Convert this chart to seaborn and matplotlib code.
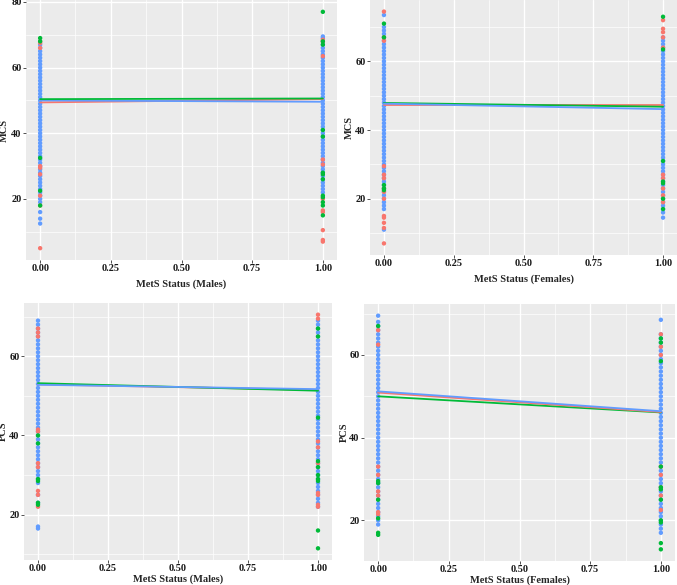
import matplotlib
matplotlib.use("Agg")
import matplotlib.pyplot as plt
import pandas as pd
import seaborn as sns
from matplotlib.ticker import MultipleLocator

groups = ["Group 1", "Group 2", "Group 3"]
colors = ["#F8766D", "#00BA38", "#619CFF"]

x_levels = [0, 1]

# ---------- Panel A: MCS, males ----------
mm_x0_red = [5, 18, 21, 27.5, 29.5, 30, 66, 67.5, 68]
mm_x0_green = [18, 22.5, 32.5, 68, 69]
mm_x0_blue = [12.5, 14, 16, 19, 20, 21, 22, 23, 24, 25, 26, 27, 28, 29, 30, 31, 32,
              33, 34, 35, 36, 37, 38, 39, 40, 41, 42, 43, 44, 45, 46, 47, 48, 49,
              50, 51, 52, 53, 54, 55, 56, 57, 58, 59, 60, 61, 62, 63, 64, 65, 66, 67]
mm_x1_red = [7, 7.5, 10.5, 16, 16.5, 20, 30.5, 32, 63.5, 68, 68.5]
mm_x1_green = [15, 18, 19, 20.5, 21, 26, 27.5, 28, 39, 41, 67, 68, 77]
mm_x1_blue = [22, 23, 24, 25, 26, 27, 28, 29, 30, 31, 32, 33, 34, 35, 36, 37, 38,
              39, 40, 41, 42, 43, 44, 45, 46, 47, 48, 49, 50, 51, 52, 53, 54, 55,
              56, 57, 58, 59, 60, 61, 62, 63, 64, 65, 66, 67, 68, 69, 69.5]
mm_fit_red = [49.4, 50.4]
mm_fit_green = [50.4, 50.6]
mm_fit_blue = [50.0, 49.6]

# ---------- Panel B: MCS, females ----------
fm_x0_red = [7, 11.5, 13, 14.5, 15, 20, 22, 23, 26, 27, 29.5, 66, 67, 74.5]
fm_x0_green = [22.5, 23, 24, 67, 71]
fm_x0_blue = [11, 17, 18, 19, 20, 21, 22, 23, 24, 25, 26, 27, 28, 29, 30, 31, 32,
              33, 34, 35, 36, 37, 38, 39, 40, 41, 42, 43, 44, 45, 46, 47, 48, 49,
              50, 51, 52, 53, 54, 55, 56, 57, 58, 59, 60, 61, 62, 63, 64, 65, 66,
              67, 68, 69, 70, 73.5]
fm_x1_red = [19, 21, 23, 26, 27, 64, 67, 68.5, 69.5, 72]
fm_x1_green = [17, 20, 24.5, 25, 31, 63.5, 73]
fm_x1_blue = [14.5, 16, 17, 18, 19, 20, 21, 22, 23, 24, 25, 26, 27, 28, 29, 30, 31,
              32, 33, 34, 35, 36, 37, 38, 39, 40, 41, 42, 43, 44, 45, 46, 47, 48,
              49, 50, 51, 52, 53, 54, 55, 56, 57, 58, 59, 60, 61, 62, 63, 64, 65,
              66, 67]
fm_fit_red = [47.4, 47.4]
fm_fit_green = [47.9, 46.8]
fm_fit_blue = [47.7, 46.1]

# ---------- Panel C: PCS, males ----------
mp_x0_red = [22, 25, 26, 32, 33, 41, 41.5, 65, 66, 67]
mp_x0_green = [22.5, 23, 28.5, 29, 38, 40]
mp_x0_blue = [16.5, 17, 23, 25, 28, 29, 30, 31, 32, 33, 34, 35, 36, 37, 38, 39, 40,
              41, 42, 43, 44, 45, 46, 47, 48, 49, 50, 51, 52, 53, 54, 55, 56, 57,
              58, 59, 60, 61, 62, 63, 64, 65, 66, 67, 68, 69]
mp_x1_red = [22, 22.5, 25, 25.5, 33, 37, 38.5, 69.5, 70.5]
mp_x1_green = [11.5, 16, 28.5, 29, 30, 32, 33.5, 44.5, 65, 67]
mp_x1_blue = [22, 23, 24, 25, 26, 27, 28, 29, 30, 31, 32, 33, 34, 35, 36, 37, 38,
              39, 40, 41, 42, 43, 44, 45, 46, 47, 48, 49, 50, 51, 52, 53, 54, 55,
              56, 57, 58, 59, 60, 61, 62, 63, 64, 65, 66, 67, 68, 69]
mp_fit_red = [52.9, 51.5]
mp_fit_green = [53.2, 51.3]
mp_fit_blue = [52.8, 51.7]

# ---------- Panel D: PCS, females ----------
fp_x0_red = [21.5, 22, 26, 27, 31, 33, 62.5, 66]
fp_x0_green = [16.5, 17, 20.5, 25, 29, 29.5, 67]
fp_x0_blue = [19, 20, 21, 22, 23, 24, 25, 26, 27, 28, 29, 30, 31, 32, 33, 34, 35,
              36, 37, 38, 39, 40, 41, 42, 43, 44, 45, 46, 47, 48, 49, 50, 51, 52,
              53, 54, 55, 56, 57, 58, 59, 60, 61, 62, 63, 64, 65, 66, 67, 68, 69.5]
fp_x1_red = [22.5, 26, 28, 31, 33, 60, 62, 65]
fp_x1_green = [13, 14.5, 19.5, 20, 25, 27.5, 28, 33, 58.5, 63, 64]
fp_x1_blue = [17, 18, 19, 20, 21, 22, 23, 24, 25, 26, 27, 28, 29, 30, 31, 32, 33,
              34, 35, 36, 37, 38, 39, 40, 41, 42, 43, 44, 45, 46, 47, 48, 49, 50,
              51, 52, 53, 54, 55, 56, 57, 58, 59, 60, 61, 62, 63, 64, 65, 68.5]
fp_fit_red = [50.9, 46.2]
fp_fit_green = [50.0, 46.1]
fp_fit_blue = [51.2, 46.4]

W, H = 677, 585

panels = [
    dict(pts=[(mm_x0_blue, mm_x1_blue, "Group 3"), (mm_x0_red, mm_x1_red, "Group 1"),
              (mm_x0_green, mm_x1_green, "Group 2")],
         fits=[(mm_fit_red, "Group 1"), (mm_fit_blue, "Group 3"), (mm_fit_green, "Group 2")],
         ylabel="MCS", xlabel="MetS Status (Males)",
         px=(26, 0, 337, 260), xpad=4, ylab_px=4.5),
    dict(pts=[(fm_x0_blue, fm_x1_blue, "Group 3"), (fm_x0_red, fm_x1_red, "Group 1"),
              (fm_x0_green, fm_x1_green, "Group 2")],
         fits=[(fm_fit_red, "Group 1"), (fm_fit_green, "Group 2"), (fm_fit_blue, "Group 3")],
         ylabel="MCS", xlabel="MetS Status (Females)",
         px=(370, 0, 677, 255), xpad=4, ylab_px=349),
    dict(pts=[(mp_x0_blue, mp_x1_blue, "Group 3"), (mp_x0_red, mp_x1_red, "Group 1"),
              (mp_x0_green, mp_x1_green, "Group 2")],
         fits=[(mp_fit_red, "Group 1"), (mp_fit_green, "Group 2"), (mp_fit_blue, "Group 3")],
         ylabel="PCS", xlabel="MetS Status (Males)",
         px=(24, 303, 332, 560), xpad=0.5, ylab_px=3.5),
    dict(pts=[(fp_x0_blue, fp_x1_blue, "Group 3"), (fp_x0_red, fp_x1_red, "Group 1"),
              (fp_x0_green, fp_x1_green, "Group 2")],
         fits=[(fp_fit_green, "Group 2"), (fp_fit_red, "Group 1"), (fp_fit_blue, "Group 3")],
         ylabel="PCS", xlabel="MetS Status (Females)",
         px=(364, 304, 675, 561), xpad=0.5, ylab_px=344),
]

sns.set_theme(style="darkgrid")
plt.rcParams["font.family"] = ["Liberation Serif", "DejaVu Serif"]
plt.rcParams["font.weight"] = "bold"
palette = dict(zip(groups, colors))

fig = plt.figure(figsize=(W / 100, H / 100), dpi=100)

for p in panels:
    x0p, y0p, x1p, y1p = p["px"]
    ax = fig.add_axes([x0p / W, 1 - y1p / H, (x1p - x0p) / W, (y1p - y0p) / H])
    rows = []
    for v0, v1, g in p["pts"]:
        rows += [(x_levels[0], v, g) for v in v0]
        rows += [(x_levels[1], v, g) for v in v1]
    df = pd.DataFrame(rows, columns=["x", "y", "group"])
    line_rows = []
    for vals, g in p["fits"]:
        line_rows += [(xx, yy, g) for xx, yy in zip(x_levels, vals)]
    dl = pd.DataFrame(line_rows, columns=["x", "y", "group"])

    ax.set_facecolor("#EBEBEB")
    sns.scatterplot(data=df, x="x", y="y", hue="group", palette=palette,
                    s=10, linewidth=0, alpha=1, legend=False, ax=ax, zorder=3)
    for vals, g in p["fits"]:
        sub = dl[dl["group"] == g]
        sns.lineplot(data=sub, x="x", y="y", color=palette[g], lw=1.3,
                     legend=False, ax=ax, zorder=4)

    ymin, ymax = df["y"].min(), df["y"].max()
    r = ymax - ymin
    ax.set_ylim(ymin - 0.05 * r, ymax + 0.05 * r)
    ax.set_xlim(-0.05, 1.05)
    ax.xaxis.set_minor_locator(MultipleLocator(0.125))
    ax.yaxis.set_major_locator(MultipleLocator(20))
    ax.yaxis.set_minor_locator(MultipleLocator(10))
    ax.set_xticks([0, 0.25, 0.5, 0.75, 1.0])
    ax.set_xticklabels(["0.00", "0.25", "0.50", "0.75", "1.00"])
    ax.grid(which="major", color="white", lw=1.0)
    ax.grid(which="minor", color="white", lw=0.5)
    ax.set_axisbelow(True)
    for s in ax.spines.values():
        s.set_visible(False)
    ax.tick_params(axis="both", which="major", length=2, width=0.6,
                   color="#333333", labelsize=7.5, labelcolor="#1a1a1a", pad=1.2,
                   bottom=True, left=True)
    ax.tick_params(which="minor", length=0)
    for lab in ax.get_xticklabels() + ax.get_yticklabels():
        lab.set_fontweight("bold")
    ax.set_xlabel(p["xlabel"], fontsize=7.5, fontweight="bold", labelpad=p["xpad"])
    ax.set_ylabel(p["ylabel"], fontsize=7.5, fontweight="bold",
                  va="center", ha="center")
    ax.yaxis.set_label_coords((p["ylab_px"] - x0p) / (x1p - x0p), 0.5)

fig.savefig("out.png", dpi=100)
